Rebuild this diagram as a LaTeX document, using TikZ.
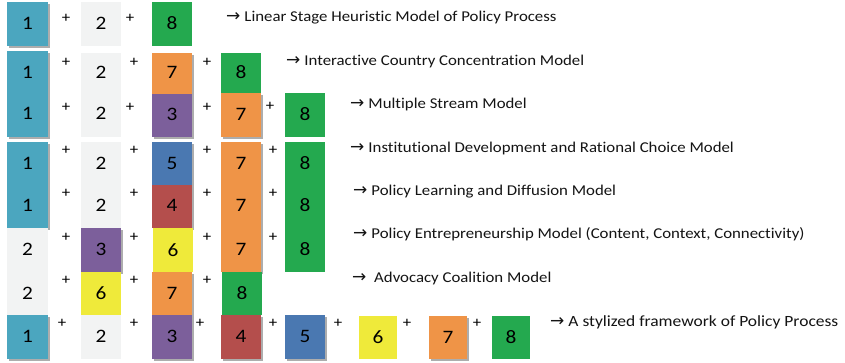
\documentclass[tikz,border=0pt]{standalone}
\usepackage{fontspec}
\setmainfont[FakeStretch=1.12, Ligatures=NoCommon]{Carlito}
\newfontfamily\arrfont{DejaVu Sans}
\usetikzlibrary{shadows}
\definecolor{cBlueA}{HTML}{4BA6BF}
\definecolor{cGray}{HTML}{F2F3F3}
\definecolor{cGreen}{HTML}{24A94F}
\definecolor{cOrange}{HTML}{EF9447}
\definecolor{cPurple}{HTML}{7C5F9B}
\definecolor{cBlueB}{HTML}{4A78B1}
\definecolor{cRed}{HTML}{B44E4C}
\definecolor{cYellow}{HTML}{EFEA3A}
\definecolor{cText}{HTML}{141414}
\tikzset{
  cellbox/.style={draw=none, inner sep=0pt, outer sep=0pt, anchor=north west},
  shd/.style={drop shadow={shadow xshift=2pt, shadow yshift=-2pt, fill=black!32, opacity=1}},
  digit/.style={inner sep=0pt, font=\fontsize{19}{20}\selectfont, text=black},
  plussign/.style={inner sep=0pt, font=\fontsize{15}{16}\selectfont, text=black},
  modellabel/.style={inner sep=0pt, anchor=west, font=\fontsize{15}{16}\selectfont, text=cText, text height=10pt, text depth=3pt}
}
% name, colour, x1, y1, x2, y2, digit, digit y
\newcommand\cellS[8]{%
  \node[cellbox, shd, fill=#2, minimum width={(#5-#3)*1pt}, minimum height={(#6-#4)*1pt}] (#1) at (#3,#4) {};
  \node[digit] (#1d) at ({(#3+#5)/2},#8) {#7};}
\newcommand\cellN[8]{%
  \node[cellbox, fill=#2, minimum width={(#5-#3)*1pt}, minimum height={(#6-#4)*1pt}] (#1) at (#3,#4) {};
  \node[digit] (#1d) at ({(#3+#5)/2},#8) {#7};}
\newcommand\arr{{\arrfont\fontsize{17}{17}\selectfont\char"2192}\hspace{4pt}}
\begin{document}
\begin{tikzpicture}[x=1pt,y=-1pt]
\useasboundingbox (0,0) rectangle (845,363);
\fill[white] (0,0) rectangle (845,363);
% Row 1
\cellS{r1a}{cBlueA}{7}{2}{48}{46}{1}{23}
\cellN{r1b}{cGray}{81}{2}{121}{46}{2}{23}
\cellN{r1c}{cGreen}{152}{2}{192}{46}{8}{23}
\node[plussign] (p1a) at (66,18) {+};
\node[plussign] (p1b) at (130,18) {+};
\node[modellabel] (m1) at (226,18) {\arr Linear Stage Heuristic Model of Policy Process};
% Row 2
\cellS{r2a}{cBlueA}{7}{51}{48}{95}{1}{72}
\cellN{r2b}{cGray}{81}{53}{121}{95}{2}{72}
\cellS{r2c}{cOrange}{152}{53}{192}{94}{7}{72}
\cellN{r2d}{cGreen}{221}{53}{261}{93}{8}{72}
\node[plussign] (p2a) at (66,62) {+};
\node[plussign] (p2b) at (134,62) {+};
\node[plussign] (p2c) at (207,62) {+};
\node[modellabel] (m2) at (286,62) {\arr Interactive Country Concentration Model};
% Row 3
\cellS{r3a}{cBlueA}{7}{95}{48}{137}{1}{113}
\cellN{r3b}{cGray}{81}{95}{121}{137}{2}{113}
\cellS{r3c}{cPurple}{152}{94}{192}{137}{3}{114}
\cellS{r3d}{cOrange}{221}{93}{261}{137}{7}{114}
\cellN{r3e}{cGreen}{285}{93}{325}{137}{8}{114}
\node[plussign] (p3a) at (66,107) {+};
\node[plussign] (p3b) at (130,107) {+};
\node[plussign] (p3c) at (207,107) {+};
\node[plussign] (p3d) at (270,106) {+};
\node[modellabel] (m3) at (350,105) {\arr Multiple Stream Model};
% Row 4
\cellS{r4a}{cBlueA}{7}{142}{48}{185}{1}{163}
\cellN{r4b}{cGray}{81}{142}{121}{185}{2}{163}
\cellS{r4c}{cBlueB}{152}{142}{192}{185}{5}{163}
\cellS{r4d}{cOrange}{221}{142}{261}{185}{7}{163}
\cellN{r4e}{cGreen}{285}{142}{325}{185}{8}{163}
\node[plussign] (p4a) at (66,150) {+};
\node[plussign] (p4b) at (134,150) {+};
\node[plussign] (p4c) at (207,150) {+};
\node[plussign] (p4d) at (273,150) {+};
\node[modellabel] (m4) at (350,149) {\arr Institutional Development and Rational Choice Model};
% Row 5
\cellS{r5a}{cBlueA}{7}{185}{48}{228}{1}{205}
\cellN{r5b}{cGray}{81}{185}{121}{228}{2}{205}
\cellS{r5c}{cRed}{152}{185}{192}{228}{4}{205}
\cellS{r5d}{cOrange}{221}{185}{261}{228}{7}{205}
\cellN{r5e}{cGreen}{285}{185}{325}{228}{8}{205}
\node[plussign] (p5a) at (66,193) {+};
\node[plussign] (p5b) at (134,193) {+};
\node[plussign] (p5c) at (207,193) {+};
\node[plussign] (p5d) at (273,193) {+};
\node[modellabel] (m5) at (353,192) {\arr Policy Learning and Diffusion Model};
% Row 6
\cellN{r6a}{cGray}{7}{228}{48}{272}{2}{249}
\cellS{r6b}{cPurple}{81}{228}{121}{272}{3}{249}
\cellN{r6c}{cYellow}{153}{228}{193}{272}{6}{250}
\cellS{r6d}{cOrange}{221}{228}{261}{272}{7}{249}
\cellN{r6e}{cGreen}{285}{228}{325}{272}{8}{249}
\node[plussign] (p6a) at (66,237) {+};
\node[plussign] (p6b) at (134,237) {+};
\node[plussign] (p6c) at (207,237) {+};
\node[plussign] (p6d) at (273,237) {+};
\node[modellabel] (m6) at (353,235) {\arr Policy Entrepreneurship Model (Content, Context, Connectivity)};
% Row 7
\cellN{r7a}{cGray}{7}{272}{48}{315}{2}{293}
\cellN{r7b}{cYellow}{81}{272}{121}{315}{6}{293}
\cellS{r7c}{cOrange}{152}{272}{192}{315}{7}{293}
\cellN{r7d}{cGreen}{222}{272}{262}{315}{8}{293}
\node[plussign] (p7a) at (66,280) {+};
\node[plussign] (p7b) at (134,280) {+};
\node[plussign] (p7c) at (207,280) {+};
\node[modellabel] (m7) at (352,279) {\arr\ Advocacy Coalition Model};
% Row 8
\cellS{r8a}{cBlueA}{7}{315}{48}{359}{1}{336}
\cellN{r8b}{cGray}{81}{315}{121}{359}{2}{336}
\cellS{r8c}{cPurple}{152}{315}{192}{359}{3}{336}
\cellS{r8d}{cRed}{221}{315}{261}{359}{4}{336}
\cellS{r8e}{cBlueB}{285}{315}{325}{359}{5}{336}
\cellN{r8f}{cYellow}{359}{316}{397}{359}{6}{337}
\cellS{r8g}{cOrange}{429}{316}{467}{359}{7}{337}
\cellN{r8h}{cGreen}{492}{316}{530}{359}{8}{337}
\node[plussign] (p8a) at (62,323) {+};
\node[plussign] (p8b) at (134,323) {+};
\node[plussign] (p8c) at (200,323) {+};
\node[plussign] (p8d) at (273,323) {+};
\node[plussign] (p8e) at (338,323) {+};
\node[plussign] (p8f) at (407,323) {+};
\node[plussign] (p8g) at (477,323) {+};
\node[modellabel, font=\fontsize{15.6}{16}\selectfont] (m8) at (550,323) {\arr A stylized framework of Policy Process};
\end{tikzpicture}
\end{document}
